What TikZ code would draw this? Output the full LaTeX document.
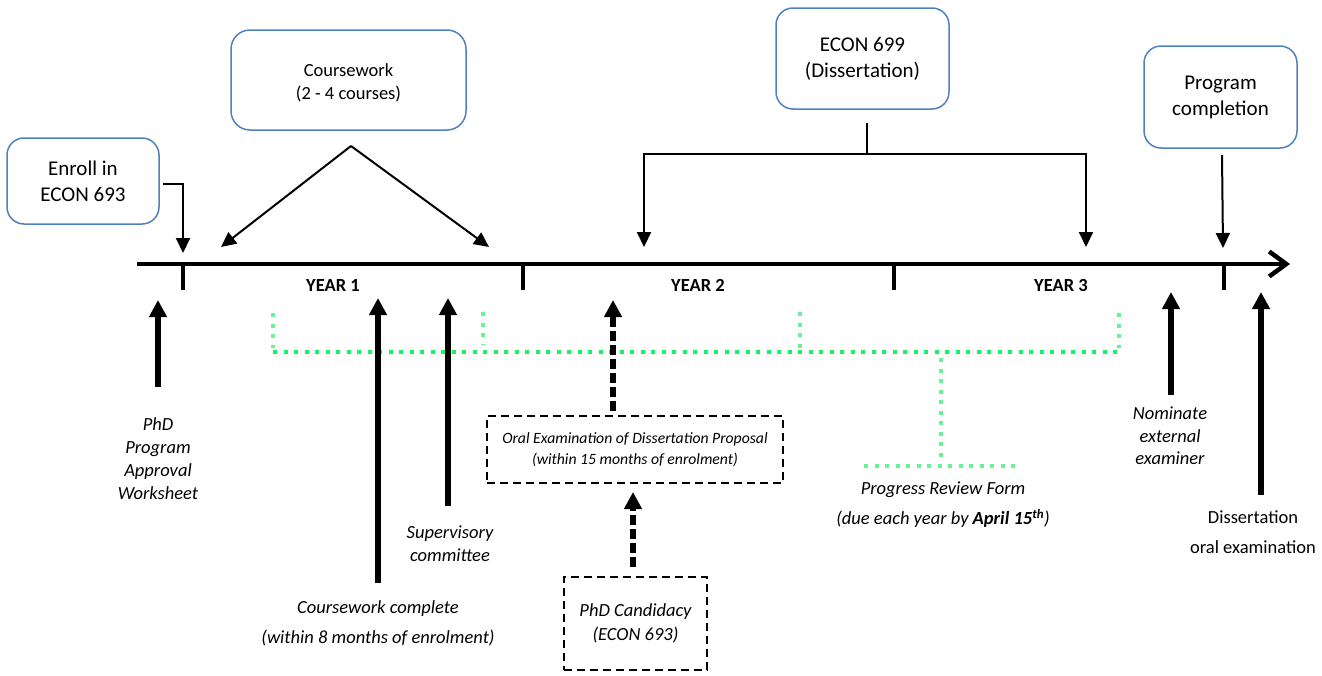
\documentclass[tikz,border=0pt]{standalone}
\usepackage{fontspec}
\setmainfont{Carlito}
\usetikzlibrary{arrows.meta}
\definecolor{boxblue}{RGB}{79,129,189}
\definecolor{grnA}{RGB}{30,240,100}
\definecolor{grnB}{RGB}{105,242,150}
\begin{document}
\begin{tikzpicture}[x=1pt,y=-1pt,
  bluebox/.style={draw=boxblue,line width=1.5pt,rounded corners=17pt,align=center,inner sep=0pt,font=\fontsize{21}{26}\selectfont},
  dashbox/.style={draw,line width=2pt,dash pattern=on 8pt off 5pt,align=center,inner sep=0pt,font=\itshape\fontsize{18.5}{24}\selectfont},
  lbl/.style={align=center,inner sep=0pt,font=\itshape\fontsize{18.5}{23}\selectfont},
  yearlbl/.style={inner sep=0pt,font=\bfseries\fontsize{18.5}{22}\selectfont},
  thinarr/.style={line width=2pt,-{Triangle[length=15pt,width=14pt]}},
  thinline/.style={line width=2pt},
  thickarr/.style={line width=5.5pt,-{Triangle[length=17pt,width=17pt]}},
  dasharr/.style={line width=5.5pt,dash pattern=on 10pt off 4pt,-{Triangle[length=17pt,width=17pt]}},
  dotA/.style={grnA,line width=4pt,dash pattern=on 4pt off 6.5pt},
  dotB/.style={grnB,line width=4pt,dash pattern=on 4pt off 6.5pt},
  tick/.style={line width=4.5pt}
]
\useasboundingbox (0,0) rectangle (1322,675);

% green progress-review brackets
\draw[dotA] (273,352) -- (1122,352);
\draw[dotB] (273,313) -- (273,348);
\draw[dotB] (483,312) -- (483,345);
\draw[dotB] (800,312) -- (800,348);
\draw[dotB] (1119,313) -- (1119,348);
\draw[dotB] (941,358) -- (941,460);
\draw[dotB] (864,466) -- (1017,466);

% timeline
\coordinate (tlS) at (137,264);
\coordinate (tlE) at (1290,264);
\draw[line width=4.5pt,-{Straight Barb[length=17pt,width=25pt]}] (tlS) -- (tlE);
\coordinate (k1) at (183,264); \coordinate (k1b) at (183,290);
\coordinate (k2) at (523,264); \coordinate (k2b) at (523,290);
\coordinate (k3) at (894,264); \coordinate (k3b) at (894,290);
\coordinate (k4) at (1224,264); \coordinate (k4b) at (1224,290);
\draw[tick] (k1) -- (k1b);
\draw[tick] (k2) -- (k2b);
\draw[tick] (k3) -- (k3b);
\draw[tick] (k4) -- (k4b);

\node[yearlbl] (y1) at (333,285) {YEAR 1};
\node[yearlbl] (y2) at (698,285) {YEAR 2};
\node[yearlbl] (y3) at (1061,285) {YEAR 3};

% top boxes
\node[bluebox,minimum width=152pt,minimum height=86pt] (enroll) at (83,181) {Enroll in\\ECON 693};
\node[bluebox,minimum width=235pt,minimum height=100pt,rounded corners=19pt,font=\fontsize{18.5}{23}\selectfont] (cw) at (348.5,80) {};
\node[inner sep=0pt,align=center,font=\fontsize{18.5}{23}\selectfont] (cwtxt) at (348.5,83) {Coursework\\(2 - 4 courses)};
\node[bluebox,minimum width=173pt,minimum height=101pt] (econ) at (862.5,58.5) {ECON 699\\(Dissertation)};
\node[bluebox,minimum width=153pt,minimum height=102pt] (prog) at (1220.5,97) {Program\\completion};

% enroll arrow
\coordinate (enS) at (163,184);
\coordinate (enT) at (183,253);
\draw[thinarr] (enS) -| (enT);

% coursework arrows
\coordinate (cwA) at (351,146);
\coordinate (cwL) at (221,247);
\coordinate (cwR) at (489,247);
\draw[thinarr] (cwA) -- (cwL);
\draw[thinarr] (cwA) -- (cwR);

% dissertation bracket
\coordinate (ecS) at (867,123);
\coordinate (ecM) at (867,154);
\coordinate (ecL) at (644,154);
\coordinate (ecR) at (1086,154);
\coordinate (ecLT) at (644,247);
\coordinate (ecRT) at (1086,247);
\draw[thinline] (ecS) -- (ecM);
\draw[thinarr] (ecM) -- (ecL) -- (ecLT);
\draw[thinarr] (ecM) -- (ecR) -- (ecRT);

% program completion arrow
\coordinate (pcS) at (1222,155);
\coordinate (pcT) at (1223,248);
\draw[thinarr] (pcS) -- (pcT);

% labels below
\node[lbl] (phd) at (158,459) {PhD\\Program\\Approval\\Worksheet};
\node[lbl,font=\itshape\fontsize{18.5}{30}\selectfont] (cwc) at (378,623) {Coursework complete\\(within 8 months of enrolment)};
\node[lbl] (sup) at (450,544) {Supervisory\\committee};
\node[lbl,font=\itshape\fontsize{18.5}{22.5}\selectfont] (nom) at (1170,436) {Nominate\\external\\examiner};
\node[lbl,font=\fontsize{18.5}{30}\selectfont] (diss) at (1253,532) {Dissertation\\oral examination};
\node[lbl,font=\itshape\fontsize{18.5}{30}\selectfont] (prf) at (943,505) {Progress Review Form\\(due each year by \textbf{April 15\textsuperscript{th}})};

\node[dashbox,minimum width=296pt,minimum height=67pt,font=\itshape\fontsize{15.7}{21}\selectfont] (oral) at (635,449.5) {Oral Examination of Dissertation Proposal\\(within 15 months of enrolment)};
\node[dashbox,minimum width=143pt,minimum height=93pt] (cand) at (635.5,623.5) {PhD Candidacy\\(ECON 693)};

% up arrows
\coordinate (a1s) at (158,387); \coordinate (a1t) at (158,300);
\coordinate (a2s) at (378,583); \coordinate (a2t) at (378,298);
\coordinate (a3s) at (448,506); \coordinate (a3t) at (448,298);
\coordinate (a4s) at (1171,395); \coordinate (a4t) at (1171,292);
\coordinate (a5s) at (1261,495); \coordinate (a5t) at (1261,292);
\draw[thickarr] (a1s) -- (a1t);
\draw[thickarr] (a2s) -- (a2t);
\draw[thickarr] (a3s) -- (a3t);
\draw[thickarr] (a4s) -- (a4t);
\draw[thickarr] (a5s) -- (a5t);

\coordinate (oT) at (613,300);
\draw[dasharr] (oral.north -| oT) ++(0,-4) -- (oT);
\coordinate (cT) at (633,492);
\draw[dasharr] (cand.north -| cT) ++(0,-9) -- (cT);
\end{tikzpicture}
\end{document}
